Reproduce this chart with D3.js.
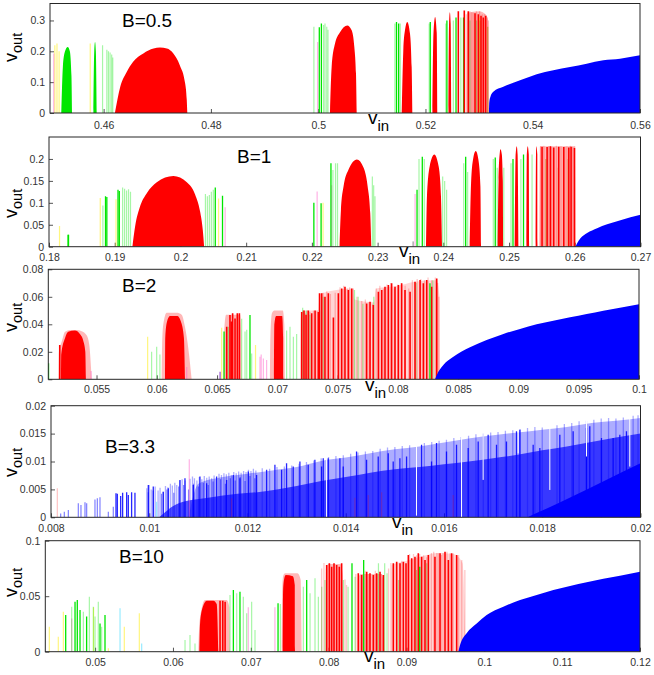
<!DOCTYPE html>
<html>
<head>
<meta charset="utf-8">
<script src="https://cdn.jsdelivr.net/npm/d3@7"></script>
<style>
  body { margin: 0; background: #fff; }
  text { font-family: "Liberation Sans", Arial, sans-serif; }
</style>
</head>
<body>
<svg id="chart" width="654" height="675"></svg>
<script>
// ---------- B = 0.5 ----------
const b05XTicks = [0.46, 0.48, 0.5, 0.52, 0.54, 0.56];
const b05YTicks = [0, 0.1, 0.2, 0.3];
const b05RedLobes = [
  [[0.4621,0],[0.4631,0.085],[0.4643,0.133],[0.4655,0.166],[0.4674,0.193],[0.4693,0.209],[0.4705,0.212],[0.4718,0.209],[0.4730,0.193],[0.4742,0.155],[0.4752,0.096],[0.4755,0.042],[0.4756,0]],
  [[0.5022,0],[0.50251,0.149],[0.50314,0.225],[0.50407,0.262],[0.50543,0.284],[0.50624,0.268],[0.50674,0.214],[0.50705,0.128],[0.50718,0]],
  [[0.51557,0],[0.51587,0.203],[0.51618,0.268],[0.51661,0.295],[0.51712,0.257],[0.51743,0.149],[0.51755,0]],
  [[0.5213,0],[0.5215,0.26],[0.5218,0.311],[0.5221,0.26],[0.5222,0]],
  [[0.5243,0],[0.5244,0.29],[0.52455,0.327],[0.5247,0.29],[0.5248,0]]
];
const b05GreenLobes = [
  [[0.4521,0],[0.4524,0.15],[0.4528,0.2],[0.4533,0.214],[0.4537,0.2],[0.4540,0.12],[0.4541,0]],
  [[0.4581,0],[0.45825,0.2],[0.4584,0.23],[0.45855,0.2],[0.4587,0]]
];
const b05RedHaze = [
  [[0.5277,0],[0.5278,0.325],[0.5300,0.33],[0.5312,0.32],[0.5317,0.30],[0.5318,0]]
];
const b05Red = [[0.52613,0.330],[0.52724,0.332],[0.52799,0.33],[0.52924,0.323],[0.52986,0.32],[0.53036,0.315],[0.53079,0.31],[0.53123,0.315]];
const b05RedFaint = [[0.52760,0.32],[0.52830,0.33],[0.52862,0.327],[0.52890,0.325],[0.52950,0.33],[0.53010,0.33],[0.53060,0.32],[0.53100,0.32],[0.53150,0.31],[0.53172,0.30]];
const b05Green = [[0.50021,0.278],[0.50060,0.29],[0.5146,0.295],[0.5150,0.29],[0.5209,0.295],[0.5240,0.30],[0.5257,0.31],[0.5271,0.31]];
const b05GreenFaint = [[0.4598,0.22],[0.4606,0.205],[0.4609,0.2],[0.4612,0.196],[0.4615,0.19],[0.4617,0.18],[0.4992,0.28],[0.50127,0.29],[0.5010,0.285],[0.5016,0.28],[0.50183,0.27],[0.5143,0.29],[0.5153,0.29],[0.5207,0.29],[0.5238,0.29],[0.5252,0.3],[0.5266,0.31],[0.5283,0.3],[0.5295,0.3]];
const b05Yellow = [[0.4509,0.22],[0.4513,0.225],[0.4517,0.2],[0.4575,0.225],[0.5301,0.31]];
const b05Pink = [[0.4507,0.193],[0.4999,0.23]];
const b05Olive = [[0.5302,0.3],[0.5316,0.28]];
const b05Blue = [[0.53185,0],[0.53190,0.035],[0.53210,0.052],[0.53265,0.069],[0.53451,0.085],[0.53763,0.106],[0.54074,0.126],[0.54384,0.139],[0.54695,0.149],[0.55006,0.160],[0.55316,0.171],[0.55627,0.176],[0.56,0.187]];

// ---------- B = 1 ----------
const b1XTicks = [0.18, 0.19, 0.2, 0.21, 0.22, 0.23, 0.24, 0.25, 0.26, 0.27];
const b1YTicks = [0, 0.05, 0.1, 0.15, 0.2];
const b1RedLobes = [
  [[0.19269,0],[0.19310,0.046],[0.19386,0.092],[0.19488,0.122],[0.19640,0.147],[0.19893,0.161],[0.20097,0.147],[0.20223,0.119],[0.20299,0.080],[0.20340,0.038],[0.20360,0]],
  [[0.22421,0],[0.22442,0.084],[0.22482,0.138],[0.22558,0.176],[0.22685,0.199],[0.22787,0.180],[0.22848,0.138],[0.22888,0.077],[0.22904,0]],
  [[0.23736,0],[0.23751,0.115],[0.23792,0.183],[0.23863,0.210],[0.23929,0.183],[0.23964,0.115],[0.23980,0]],
  [[0.24401,0],[0.24422,0.145],[0.24452,0.199],[0.24493,0.218],[0.24533,0.199],[0.24564,0.138],[0.24574,0]],
  [[0.24827,0],[0.2484,0.15],[0.2486,0.215],[0.24868,0.222],[0.2489,0.21],[0.24905,0.15],[0.24909,0]],
  [[0.25085,0],[0.2510,0.21],[0.25117,0.229],[0.2513,0.21],[0.25142,0]],
  [[0.25265,0],[0.2527,0.21],[0.25284,0.229],[0.2530,0.21],[0.25305,0]],
  [[0.25405,0],[0.2541,0.21],[0.25416,0.229],[0.2543,0.21],[0.25433,0]]
];
const b1RedHaze = [
  [[0.2546,0],[0.2547,0.229],[0.2600,0.229],[0.2601,0]]
];
const b1Red = [[0.25502,0.228],[0.25579,0.227],[0.25629,0.229],[0.25680,0.226],[0.25756,0.228],[0.25832,0.227],[0.25909,0.226],[0.25944,0.228],[0.25995,0.225]];
const b1RedFaint = [[0.2548,0.229],[0.2553,0.23],[0.2560,0.229],[0.2565,0.228],[0.2572,0.23],[0.2579,0.229],[0.2585,0.228],[0.2588,0.229],[0.2593,0.23],[0.2597,0.228],[0.2600,0.229]];
const b1Green = [[0.1829,0.027],[0.18297,0.027],[0.1886,0.115],[0.1888,0.113],[0.1905,0.130],[0.1907,0.127],[0.2053,0.135],[0.2064,0.116],[0.2203,0.10],[0.2214,0.099],[0.2229,0.19],[0.2360,0.13],[0.2368,0.205],[0.2434,0.205],[0.2479,0.203],[0.2506,0.2],[0.2522,0.21]];
const b1GreenFaint = [[0.1882,0.094],[0.1912,0.135],[0.1915,0.132],[0.1918,0.128],[0.1921,0.131],[0.1924,0.125],[0.2038,0.12],[0.2041,0.115],[0.2044,0.118],[0.2047,0.125],[0.2050,0.13],[0.2232,0.175],[0.2236,0.19],[0.2239,0.19],[0.2292,0.16],[0.2294,0.14],[0.2296,0.115],[0.2363,0.2],[0.2371,0.2],[0.2399,0.16],[0.2402,0.15],[0.2405,0.13],[0.2431,0.19],[0.2437,0.17],[0.2476,0.2],[0.2482,0.18],[0.2492,0.18],[0.2503,0.19],[0.2518,0.2],[0.2535,0.21]];
const b1Yellow = [[0.1816,0.047],[0.1878,0.111],[0.1902,0.108],[0.2058,0.11],[0.2217,0.10]];
const b1Pink = [[0.2068,0.09],[0.2208,0.126],[0.2230,0.14],[0.2357,0.12]];
const b1Olive = [[0.2556,0.2],[0.2575,0.18],[0.2590,0.2]];
const b1Grey = [[0.2354,0.012]];
const b1Blue = [[0.26010,0],[0.26036,0.008],[0.26086,0.019],[0.26188,0.031],[0.26340,0.042],[0.26492,0.051],[0.26695,0.060],[0.26848,0.067],[0.27,0.073]];

// ---------- B = 2 ----------
const b2XTicks = [0.055, 0.06, 0.065, 0.07, 0.075, 0.08, 0.085, 0.09, 0.095, 0.1];
const b2YTicks = [0, 0.02, 0.04, 0.06, 0.08];
const b2RedHaze = [
  [[0.05183,0],[0.05188,0.02],[0.05211,0.0273],[0.05239,0.0346],[0.05280,0.0358],[0.05335,0.0358],[0.05377,0.035],[0.05418,0.032],[0.05440,0.025],[0.05460,0]],
  [[0.06040,0],[0.06044,0.025],[0.06054,0.040],[0.06082,0.0484],[0.06165,0.0484],[0.06206,0.047],[0.06234,0.038],[0.06262,0.022],[0.06289,0]],
  [[0.06552,0],[0.06556,0.03],[0.06575,0.047],[0.06690,0.047],[0.06700,0.035],[0.06704,0]],
  [[0.06939,0],[0.06942,0.03],[0.06955,0.048],[0.06975,0.050],[0.07045,0.050],[0.07058,0.04],[0.07063,0]]
];
const b2RedMist = [
  [[0.07190,0],[0.07195,0.045],[0.07210,0.050],[0.07340,0.050],[0.07350,0.062],[0.07630,0.066],[0.07640,0.058],[0.07800,0.056],[0.07820,0.066],[0.08000,0.068],[0.08140,0.071],[0.08320,0.072],[0.08345,0.060],[0.08350,0]]
];
const b2RedLobes = [
  [[0.05205,0],[0.05207,0.018],[0.05239,0.030],[0.05265,0.0345],[0.05321,0.0355],[0.05362,0.033],[0.05390,0.028],[0.05407,0.02],[0.05412,0]],
  [[0.06068,0],[0.06070,0.03],[0.06085,0.042],[0.06110,0.046],[0.06170,0.046],[0.06200,0.042],[0.06225,0.030],[0.06234,0]],
  [[0.06972,0],[0.06975,0.04],[0.06990,0.046],[0.07040,0.046],[0.07048,0.03],[0.07050,0]]
];
const b2Red = [[0.05195,0.025],[0.0658,0.0383],[0.06607,0.0468],[0.06618,0.042],[0.06629,0.048],[0.06649,0.0443],[0.06668,0.048],[0.06685,0.048],
  [0.07202,0.049],[0.07221,0.050],[0.07238,0.047],[0.07257,0.050],[0.07285,0.048],[0.07313,0.050],[0.07340,0.049],[0.07350,0.0625],
  [0.07368,0.0625],[0.07395,0.0601],[0.07423,0.0625],[0.07465,0.045],[0.07506,0.0625],[0.07534,0.0661],[0.07561,0.0673],[0.07589,0.0649],[0.07617,0.0661],
  [0.07741,0.0552],[0.07769,0.0564],[0.07796,0.0540],[0.07838,0.0637],[0.07866,0.0649],[0.07893,0.0673],[0.07921,0.0686],[0.07948,0.0698],[0.07976,0.0673],
  [0.08004,0.0686],[0.08031,0.0698],[0.08059,0.0649],[0.08101,0.0637],[0.08142,0.0710],[0.08184,0.0722],[0.08211,0.0698],[0.08239,0.0722],[0.08280,0.0673],[0.08322,0.0734]];
const b2RedFaint = [[0.07215,0.05],[0.0723,0.048],[0.0725,0.05],[0.0727,0.049],[0.0730,0.05],[0.0733,0.05],[0.0738,0.063],[0.0741,0.064],[0.0744,0.062],[0.0748,0.063],
  [0.0752,0.067],[0.0755,0.068],[0.0758,0.066],[0.0760,0.067],[0.0763,0.066],[0.0766,0.06],[0.0770,0.057],[0.0773,0.058],[0.0776,0.056],[0.0779,0.055],
  [0.0782,0.066],[0.0785,0.068],[0.0788,0.066],[0.0791,0.069],[0.0794,0.07],[0.0797,0.066],[0.0800,0.069],[0.0803,0.07],[0.0806,0.068],[0.0809,0.066],
  [0.0812,0.072],[0.0816,0.073],[0.0819,0.073],[0.0822,0.072],[0.0825,0.074],[0.0828,0.072],[0.0831,0.074],[0.0833,0.07],[0.0834,0.06]];
const b2Green = [[0.05102,0.0116],[0.06558,0.0347],[0.06773,0.0468],[0.08266,0.0698]];
const b2GreenFaint = [[0.05957,0.02],[0.05999,0.0237],[0.06026,0.018],[0.06594,0.0383],[0.06704,0.044],[0.06732,0.0347],[0.06746,0.036],[0.06787,0.0187],
  [0.07077,0.0355],[0.07105,0.0383],[0.07133,0.031],[0.07160,0.033],[0.0721,0.052],[0.0724,0.05],[0.0727,0.047],[0.0735,0.05],[0.0738,0.06],
  [0.0764,0.065],[0.0767,0.06],[0.0771,0.055],[0.0780,0.06],[0.0815,0.07],[0.0829,0.072]];
const b2Yellow = [[0.05924,0.031],[0.06538,0.0375],[0.06819,0.0249]];
const b2Pink = [[0.05455,0.006],[0.06248,0.009],[0.06856,0.0164],[0.06866,0.018],[0.06884,0.0152],[0.06911,0.014]];
const b2Purple = [[0.06525,0.0055]];
const b2Blue = [[0.08308,0],[0.08322,0.003],[0.08377,0.0104],[0.08460,0.0164],[0.08598,0.0233],[0.08736,0.0286],[0.08875,0.033],[0.09013,0.0366],[0.09151,0.040],[0.09289,0.0426],[0.09428,0.0451],[0.09566,0.0475],[0.09704,0.0499],[0.09842,0.0521],[0.1,0.0545]];

// ---------- B = 3.3 ----------
const b33XTicks = [0.008, 0.01, 0.012, 0.014, 0.016, 0.018, 0.02];
const b33YTicks = [0, 0.005, 0.01, 0.015, 0.02];
const b33Top = [[0.0108,0],[0.0110,0.0060],[0.0115,0.0072],[0.0120,0.0078],[0.0125,0.0084],[0.0130,0.0090],[0.0135,0.0101],[0.0140,0.0107],[0.0145,0.0115],[0.0150,0.0122],[0.0155,0.0127],[0.0160,0.0134],[0.0165,0.0141],[0.0170,0.0147],[0.0175,0.0152],[0.0180,0.0157],[0.0185,0.0162],[0.0190,0.0169],[0.0195,0.0173],[0.0200,0.0178]];
const b33Mid = [[0.0102,0],[0.0106,0.0025],[0.0112,0.0035],[0.0118,0.0042],[0.0122,0.0045],[0.0126,0.0050],[0.0130,0.0056],[0.0135,0.0065],[0.0140,0.0072],[0.0145,0.0080],[0.0150,0.0086],[0.0155,0.0090],[0.0160,0.0095],[0.0165,0.0100],[0.0170,0.0106],[0.0175,0.0112],[0.0180,0.0120],[0.0185,0.0127],[0.0190,0.0135],[0.0195,0.0143],[0.0200,0.0150]];
const b33Base = [[0.0177,0],[0.0180,0.0012],[0.0186,0.0037],[0.0193,0.0067],[0.0200,0.0097]];
const b33Sparse = [[0.008197,0.0007],[0.008271,0.0010],[0.008353,0.0013],[0.008556,0.0025],[0.008610,0.0022],[0.008692,0.0027],[0.008726,0.0025],[0.008895,0.0032],[0.008943,0.0034],[0.008997,0.0036],[0.009167,0.0010],[0.009268,0.0019],
  [0.00998,0.0045],[0.01008,0.0048],[0.01025,0.0042],[0.01036,0.0050],[0.01050,0.0044],[0.01060,0.0055],[0.01070,0.0058],[0.01080,0.0050],[0.01090,0.0060],[0.01100,0.0055],
  [0.01110,0.0062],[0.01120,0.0058],[0.01130,0.0064],[0.01145,0.0068],[0.01155,0.0060],[0.01165,0.0070],[0.01175,0.0066],[0.01185,0.0072],[0.01195,0.0065],[0.01205,0.0074],[0.01215,0.0070]];
const b33Light = [[0.00995,0.0052],[0.01000,0.0058],[0.01004,0.0050],[0.01012,0.0055],[0.01018,0.0048],[0.01022,0.0053],[0.01028,0.0046],[0.01033,0.0056],[0.01038,0.0054],[0.01043,0.0060],
  [0.01047,0.0057],[0.01052,0.0062],[0.01056,0.0058],[0.01062,0.0066],[0.01067,0.0068],[0.01073,0.0066],[0.01083,0.0069],[0.01088,0.0073],[0.01092,0.0070],[0.01097,0.0066],
  [0.01102,0.0072],[0.01107,0.0068],[0.01112,0.0074],[0.01117,0.0071],[0.01122,0.0073],[0.01127,0.0070],[0.01132,0.0075],[0.01142,0.0078],[0.01147,0.0076],[0.01152,0.0079],
  [0.01157,0.0077],[0.01162,0.0080],[0.01167,0.0076],[0.01172,0.0081],[0.01177,0.0079],[0.01182,0.0082],[0.01187,0.0080],[0.01192,0.0083],[0.01197,0.0081],[0.01202,0.0085],
  [0.01207,0.0083],[0.01212,0.0087],[0.01217,0.0084],
  [0.01230,0.0088],[0.01245,0.0087],[0.01260,0.0090],[0.01275,0.0091],[0.01290,0.0093],[0.01305,0.0096],[0.01320,0.0099],[0.01335,0.0102],[0.01350,0.0106],[0.01365,0.0108],
  [0.01380,0.0110],[0.01395,0.0111],[0.01410,0.0114],[0.01425,0.0116],[0.01440,0.0118],[0.01455,0.0119],[0.01470,0.0123],[0.01485,0.0125],[0.01500,0.0126],[0.01515,0.0128],
  [0.01530,0.0129],[0.01560,0.0133],[0.01575,0.0135],[0.01590,0.0137],[0.01605,0.0139],[0.01620,0.0142],[0.01635,0.0144],[0.01650,0.0146],[0.01665,0.0149],[0.01680,0.0150],
  [0.01695,0.0152],[0.01710,0.0153],[0.01725,0.0155],[0.01740,0.0156],[0.01755,0.0158],[0.01770,0.0160],[0.01785,0.0162],[0.01800,0.0161],[0.01830,0.0165],[0.01845,0.0167],
  [0.01860,0.0169],[0.01875,0.0172],[0.01890,0.0173],[0.01905,0.0175],[0.01920,0.0177],[0.01935,0.0178],[0.01950,0.0177],[0.01965,0.0179],[0.01985,0.0182],[0.01995,0.0183]];
const b33Dark = [[0.009323,0.0043],[0.009350,0.0042],[0.009418,0.0038],[0.009458,0.0044],[0.009540,0.0045],[0.009574,0.0040],[0.009641,0.0045],[0.009709,0.0044],
  [0.009981,0.0058],[0.010082,0.0055],[0.010286,0.0046],[0.010388,0.0052],[0.010625,0.0067],[0.010727,0.0070],[0.010897,0.0058],[0.011032,0.0073],[0.011168,0.0061],
  [0.011371,0.0073],[0.011575,0.0067],[0.011710,0.0076],[0.011846,0.0070],[0.012016,0.0082],[0.012185,0.0076],[0.012389,0.0085],[0.012558,0.0094],[0.012694,0.0085],
  [0.012795,0.0097],[0.012931,0.0091],[0.013067,0.0100],[0.013236,0.0094],[0.013372,0.0103],[0.013508,0.0091],[0.013643,0.0106],
  [0.013542,0.0106],[0.013881,0.0106],[0.013949,0.0091],[0.014220,0.0118],[0.014424,0.0103],[0.014661,0.0109],[0.014865,0.0115],[0.014966,0.0100],[0.015102,0.0106],
  [0.015238,0.0109],[0.015543,0.0130],[0.015746,0.0100],[0.015848,0.0133],[0.016051,0.0118],[0.016255,0.0130],[0.016492,0.0124],[0.016696,0.0136],[0.016899,0.0148],
  [0.017069,0.0130],[0.017272,0.0136],[0.017476,0.0154],[0.017544,0.0157],[0.017815,0.0130],[0.017951,0.0124],[0.018358,0.0148],[0.018629,0.0154],[0.018900,0.0160],
  [0.018968,0.0163],[0.019206,0.0142],[0.019443,0.0142],[0.019579,0.0148],[0.019714,0.0154]];
const b33Gaps = [[0.01361,0],[0.01544,0.0003],[0.016357,0],[0.016797,0.0067],[0.017510,0.0115],[0.018154,0.0049],[0.018901,0.0109],[0.019782,0.0091]];
const b33Red = [[0.008129,0.0052],[0.011676,0.0034],[0.014186,0.0035],[0.014458,0.0040],[0.014729,0.0045],[0.016187,0.0040]];
const b33Pink = [[0.010815,0.0104]];
const b33Cyan = [[0.010150,0.0028]];

// ---------- B = 10 ----------
const b10XTicks = [0.05, 0.06, 0.07, 0.08, 0.09, 0.1, 0.11, 0.12];
const b10YTicks = [0, 0.05, 0.1];
const b10RedHaze = [
  [[0.06326,0],[0.06335,0.0195],[0.06369,0.0391],[0.06412,0.0466],[0.06690,0.0466],[0.06724,0.040],[0.06733,0]],
  [[0.07397,0],[0.07402,0.05],[0.07415,0.068],[0.07440,0.0706],[0.07600,0.0706],[0.07640,0.065],[0.07654,0]],
  [[0.07960,0],[0.07965,0.075],[0.0800,0.079],[0.0815,0.079],[0.0818,0.07],[0.0819,0]],
  [[0.0837,0],[0.08375,0.066],[0.0842,0.07],[0.0868,0.07],[0.0871,0.06],[0.0872,0]]
];
const b10RedMist = [
  [[0.0880,0],[0.0881,0.078],[0.0900,0.082],[0.0920,0.086],[0.0940,0.089],[0.0960,0.088],[0.0972,0.08],[0.0976,0]]
];
const b10RedLobes = [
  [[0.06339,0],[0.06348,0.025],[0.06382,0.04],[0.06433,0.046],[0.06519,0.046],[0.06562,0.043],[0.06583,0]],
  [[0.07410,0],[0.07415,0.055],[0.07430,0.066],[0.07450,0.069],[0.07540,0.068],[0.07565,0.06],[0.07568,0]]
];
const b10Red = [[0.06605,0.046],[0.0664,0.046],[0.0667,0.045],[0.07975,0.0781],[0.08009,0.0796],[0.08039,0.0766],[0.08069,0.0796],[0.08103,0.0781],[0.08137,0.0766],[0.08167,0.0796],
  [0.08381,0.0706],[0.08424,0.0691],[0.08489,0.0721],[0.08531,0.0706],[0.08574,0.0691],[0.08617,0.0706],[0.08660,0.0721],[0.08703,0.0691],[0.08831,0.0796],[0.08874,0.0811],
  [0.08917,0.0796],[0.08960,0.0811],[0.08994,0.0796],[0.09024,0.0871],[0.09067,0.0841],[0.09109,0.0856],[0.09152,0.0886],[0.09195,0.0856],[0.09238,0.0826],[0.09281,0.0871],
  [0.09366,0.0856],[0.09431,0.0886],[0.09495,0.0901],[0.09538,0.0826],[0.09580,0.0886],[0.09645,0.0871]];
const b10RedFaint = [[0.0791,0.075],[0.0794,0.08],[0.0821,0.065],[0.0823,0.06],[0.0835,0.07],[0.0847,0.073],[0.0851,0.07],[0.0860,0.073],[0.0868,0.07],[0.0877,0.075],
  [0.0880,0.08],[0.0894,0.082],[0.0904,0.088],[0.0909,0.088],[0.0913,0.087],[0.0917,0.088],[0.0922,0.087],[0.0926,0.085],[0.0932,0.089],[0.0935,0.0901],
  [0.0939,0.089],[0.0941,0.0886],[0.0945,0.0871],[0.0947,0.089],[0.0952,0.0901],[0.0956,0.0886],[0.0960,0.0886],[0.0967,0.0871],[0.0971,0.0826],[0.0975,0.0736]];
const b10Green = [[0.04622,0.033],[0.04742,0.045],[0.04771,0.0466],[0.04806,0.0376],[0.04891,0.0316],[0.05063,0.0255],[0.05127,0.0331],[0.06776,0.0556],[0.06861,0.0541],[0.0735,0.0436],[0.07718,0.0646],[0.0830,0.0796],[0.0845,0.0826],[0.0917,0.0766]];
const b10GreenFaint = [[0.04699,0.0406],[0.04849,0.0361],[0.04926,0.0496],[0.04977,0.0406],[0.04999,0.0316],[0.05041,0.0451],[0.05084,0.0225],[0.06155,0.0105],[0.06219,0.015],[0.06283,0.0075],
  [0.06733,0.0511],[0.06819,0.0526],[0.06904,0.0496],[0.06947,0.0346],[0.07011,0.0451],[0.07054,0.0195],[0.0738,0.043],[0.07675,0.0586],[0.07761,0.0526],[0.07825,0.0661],
  [0.07868,0.0496],[0.07911,0.0586],[0.07953,0.0646],[0.0819,0.0646],[0.0825,0.0586],[0.0834,0.0676],[0.0864,0.0796],[0.0872,0.0796],[0.0875,0.0706],[0.0890,0.0646],[0.0913,0.0736],[0.0926,0.0796]];
const b10Yellow = [[0.04412,0.0225],[0.04527,0.0135],[0.04592,0.036],[0.04980,0.04],[0.05170,0.003],[0.05375,0.0225],[0.05568,0.0346]];
const b10Cyan = [[0.05320,0.0391],[0.05598,0.0075]];
const b10Pink = [[0.0470,0.03],[0.06968,0.04],[0.0731,0.04]];
const b10Blue = [[0.09666,0],[0.09688,0.006],[0.09773,0.0166],[0.09902,0.0253],[0.10030,0.0330],[0.10244,0.0405],[0.10459,0.0466],[0.10673,0.0511],[0.10887,0.0556],[0.11101,0.0592],[0.11315,0.0625],[0.11529,0.0658],[0.11743,0.0685],[0.12,0.0721]];

// styles of the mark kinds
const markStyle = {
  red:        {color: "#ff0000", opacity: 1,    width: 1.6},
  redFaint:   {color: "#ff0000", opacity: 0.22, width: 1.3},
  redHaze:    {color: "#ff0000", opacity: 0.28},
  redMist:    {color: "#ff0000", opacity: 0.16},
  green:      {color: "#00e600", opacity: 1,    width: 1.3},
  greenFaint: {color: "#00e600", opacity: 0.35, width: 1.2},
  yellow:     {color: "#ffee00", opacity: 0.5,  width: 1.2},
  pink:       {color: "#ff66cc", opacity: 0.5,  width: 1.2},
  olive:      {color: "#aa8800", opacity: 0.55, width: 1.2},
  grey:       {color: "#666666", opacity: 0.8,  width: 1},
  cyan:       {color: "#55ddff", opacity: 0.6,  width: 1.2},
  purple:     {color: "#8833cc", opacity: 0.9,  width: 1.2},
  blue:       {color: "#0000ff", opacity: 1,    width: 1.3},
  blueDark:   {color: "#0000ff", opacity: 0.85, width: 1.3},
  blueLight:  {color: "#0000ff", opacity: 0.32, width: 1.3},
  blueFaint:  {color: "#0000ff", opacity: 0.5,  width: 1.2},
  blueMid:    {color: "#0000ff", opacity: 0.68},
  gap:        {color: "#ffffff", opacity: 1,    width: 1.0}
};

// panel layout: plot box [left, right, top, bottom] in px
const panels = [
  { box: [50, 640, 3.5, 113], xDomain: [0.45, 0.56], yDomain: [0, 0.355], xTicks: b05XTicks, yTicks: b05YTicks, xPad: 9,
    label: ["B=0.5", 122, 27], vin: [368, 124], vout: [16.5, 62],
    layers: [["redHaze","area",b05RedHaze],["yellow","line",b05Yellow],["pink","line",b05Pink],["greenFaint","line",b05GreenFaint],
             ["redFaint","line",b05RedFaint],["olive","line",b05Olive],["green","area",b05GreenLobes],["red","area",b05RedLobes],
             ["green","line",b05Green],["red","line",b05Red],["blue","area",[b05Blue]]] },
  { box: [49, 640.5, 137, 246.7], xDomain: [0.18, 0.27], yDomain: [0, 0.25], xTicks: b1XTicks, yTicks: b1YTicks, xPad: 7,
    label: ["B=1", 237, 163], vin: [399, 257], vout: [16.5, 218],
    layers: [["redHaze","area",b1RedHaze],["yellow","line",b1Yellow],["pink","line",b1Pink],["greenFaint","line",b1GreenFaint],
             ["redFaint","line",b1RedFaint],["olive","line",b1Olive],["grey","line",b1Grey],["red","area",b1RedLobes],
             ["green","line",b1Green],["red","line",b1Red],["blue","area",[b1Blue]]] },
  { box: [48.3, 639, 269.3, 379.3], xDomain: [0.051, 0.1], yDomain: [0, 0.08], xTicks: b2XTicks, yTicks: b2YTicks, xPad: 6,
    label: ["B=2", 122, 292], vin: [365, 391], vout: [16.5, 332],
    layers: [["redHaze","area",b2RedHaze],["redMist","area",b2RedMist],["yellow","line",b2Yellow],["pink","line",b2Pink],["purple","line",b2Purple],
             ["greenFaint","line",b2GreenFaint],["redFaint","line",b2RedFaint],["red","area",b2RedLobes],["red","line",b2Red],
             ["green","line",b2Green],["blue","area",[b2Blue]]] },
  { box: [51, 640.5, 405.7, 517.3], xDomain: [0.008, 0.02], yDomain: [0, 0.02], xTicks: b33XTicks, yTicks: b33YTicks, xPad: 7,
    label: ["B=3.3", 105, 453], vin: [392, 528], vout: [16.5, 477],
    layers: [["blueLight","area",[b33Top]],["blueMid","area",[b33Mid]],["blueLight","line",b33Light],["blueFaint","line",b33Sparse],
             ["blueDark","line",b33Dark],["blue","area",[b33Base]],["gap","gap",b33Gaps],["redFaint","line",b33Red],
             ["pink","line",b33Pink],["cyan","line",b33Cyan]] },
  { box: [45.3, 640, 540.7, 651.7], xDomain: [0.0436, 0.12], yDomain: [0, 0.1], xTicks: b10XTicks, yTicks: b10YTicks, xPad: 7,
    label: ["B=10", 119, 563], vin: [364, 662], vout: [16.5, 597],
    layers: [["redHaze","area",b10RedHaze],["redMist","area",b10RedMist],["yellow","line",b10Yellow],["cyan","line",b10Cyan],["pink","line",b10Pink],
             ["greenFaint","line",b10GreenFaint],["redFaint","line",b10RedFaint],["red","area",b10RedLobes],["green","line",b10Green],
             ["red","line",b10Red],["blue","area",[b10Blue]]] }
];

const svg = d3.select("#chart");
const defs = svg.append("defs");

function styleAxis(sel) {
  sel.select(".domain").remove();
  sel.attr("font-family", "Liberation Sans, Arial, sans-serif").attr("font-size", 10.5);
  sel.selectAll(".tick line").attr("stroke", "#555");
  sel.selectAll(".tick text").attr("fill", "#333");
}

panels.forEach((p, i) => {
  const [left, right, top, bottom] = p.box;
  const x = d3.scaleLinear().domain(p.xDomain).range([left, right]);
  const y = d3.scaleLinear().domain(p.yDomain).range([bottom, top]);
  const g = svg.append("g").attr("class", "panel");

  // inward ticks
  g.append("g")
    .attr("transform", "translate(0," + bottom + ")")
    .call(d3.axisBottom(x).tickValues(p.xTicks).tickFormat(String).tickSize(-4).tickPadding(p.xPad))
    .call(styleAxis);
  g.append("g")
    .attr("transform", "translate(" + left + ",0)")
    .call(d3.axisLeft(y).tickValues(p.yTicks).tickFormat(String).tickSize(-4).tickPadding(5))
    .call(styleAxis);

  defs.append("clipPath").attr("id", "clip" + i)
    .append("rect").attr("x", left).attr("y", top).attr("width", right - left).attr("height", bottom - top);
  const plot = g.append("g").attr("clip-path", "url(#clip" + i + ")");

  const area = d3.area()
    .x(d => x(d[0]))
    .y0(y(0))
    .y1(d => y(d[1]))
    .curve(d3.curveMonotoneX);

  p.layers.forEach(([kind, type, data]) => {
    const s = markStyle[kind];
    if (type === "area") {
      plot.append("g").selectAll("path").data(data).join("path")
        .attr("d", area)
        .attr("fill", s.color)
        .attr("fill-opacity", s.opacity);
    } else {
      plot.append("g").selectAll("line").data(data).join("line")
        .attr("x1", d => x(d[0]))
        .attr("x2", d => x(d[0]))
        .attr("y1", d => type === "gap" ? y(d[1]) : y(0))
        .attr("y2", d => type === "gap" ? top : y(d[1]))
        .attr("stroke", s.color)
        .attr("stroke-opacity", s.opacity)
        .attr("stroke-width", s.width);
    }
  });

  // box
  g.append("rect")
    .attr("x", left).attr("y", top)
    .attr("width", right - left).attr("height", bottom - top)
    .attr("fill", "none")
    .attr("stroke", "#262626")
    .attr("stroke-width", 1);

  // B label
  g.append("text")
    .attr("x", p.label[1]).attr("y", p.label[2])
    .attr("font-size", 19)
    .text(p.label[0]);

  // v_in label
  const vin = g.append("text").attr("x", p.vin[0]).attr("y", p.vin[1]).attr("font-size", 19);
  vin.append("tspan").text("v");
  vin.append("tspan").attr("dy", 7).attr("font-size", 15).text("in");

  // v_out label
  const vout = g.append("text")
    .attr("transform", "translate(" + p.vout[0] + "," + p.vout[1] + ") rotate(-90)")
    .attr("font-size", 18);
  vout.append("tspan").text("v");
  vout.append("tspan").attr("dy", 5).attr("font-size", 14.5).text("out");
});
</script>
</body>
</html>
